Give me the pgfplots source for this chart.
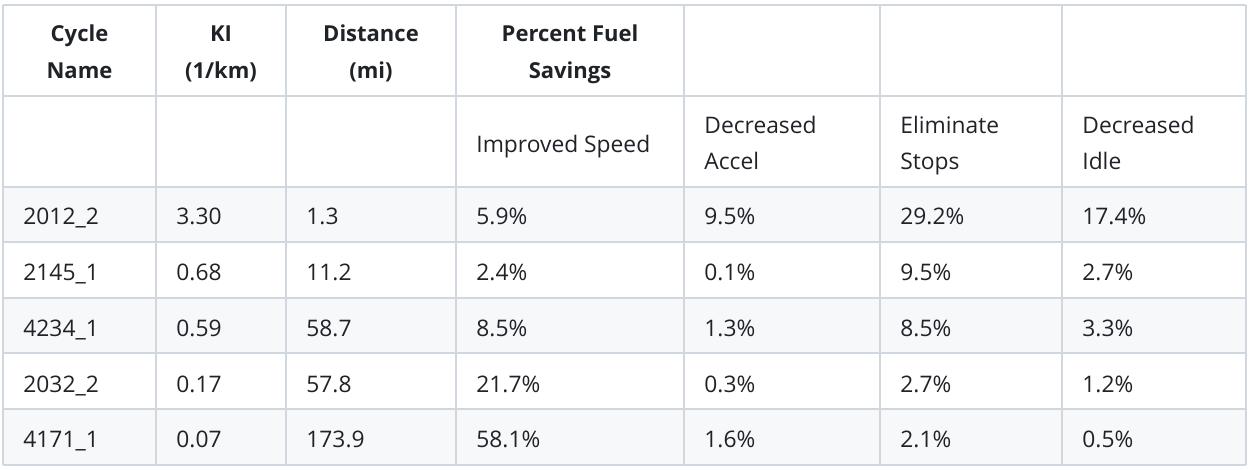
\documentclass[border=0pt]{standalone}
\usepackage{fontspec}
\setmainfont{Open Sans}
\usepackage{pgfplots}
\pgfplotsset{compat=1.18}
\usepackage{pgfplotstable}
\definecolor{gridc}{HTML}{D0D7DE}
\definecolor{rowc}{HTML}{F6F8FA}
\definecolor{txt}{HTML}{1F2328}

% data rows: y = text baseline (image px)
\pgfplotstableread{
name ki dist speed accel stops idle y
2012\_2 3.30 1.3 5.9 9.5 29.2 17.4 224
2145\_1 0.68 11.2 2.4 0.1 9.5 2.7 280
4234\_1 0.59 58.7 8.5 1.3 8.5 3.3 336
2032\_2 0.17 57.8 21.7 0.3 2.7 1.2 392
4171\_1 0.07 173.9 58.1 1.6 2.1 0.5 447
}\datatable

\pgfplotstableread{
x y label
79.5 42 Cycle
79.5 78 Name
221 42 KI
221 78 (1/km)
371 42 Distance
371 78 (mi)
570 42 {Percent Fuel}
570 78 Savings
}\headtable

\pgfplotstableread{
x y label
476 152 {Improved Speed}
704 133 Decreased
704 169 Accel
900 133 Eliminate
900 169 Stops
1082 133 Decreased
1082 169 Idle
}\subtable

\begin{document}
\begin{tikzpicture}
\begin{axis}[
  width=627pt, height=234.5pt, scale only axis,
  xmin=0, xmax=1254, ymin=0, ymax=469, y dir=reverse,
  hide axis, clip=false,
  txtstyle/.style={draw=none, mark=none, nodes near coords, point meta=explicit symbolic,
     every node near coord/.style={inner sep=0pt, text=txt, font=\fontsize{11.4}{16}\selectfont}},
  gl/.style={draw=gridc, line width=0.75pt},
]
\addplot[draw=none] coordinates {(0,0) (1254,469)};
% shaded rows
\addplot[fill=rowc, draw=none] coordinates {(3,187) (1246,187) (1246,242) (3,242)} -- cycle;
\addplot[fill=rowc, draw=none] coordinates {(3,298) (1246,298) (1246,353) (3,353)} -- cycle;
\addplot[fill=rowc, draw=none] coordinates {(3,409) (1246,409) (1246,465) (3,465)} -- cycle;
% grid lines
\addplot[gl] coordinates {(3,5) (3,465)};
\addplot[gl] coordinates {(156,5) (156,465)};
\addplot[gl] coordinates {(286,5) (286,465)};
\addplot[gl] coordinates {(456,5) (456,465)};
\addplot[gl] coordinates {(684,5) (684,465)};
\addplot[gl] coordinates {(880,5) (880,465)};
\addplot[gl] coordinates {(1062,5) (1062,465)};
\addplot[gl] coordinates {(1246,5) (1246,465)};
\addplot[gl] coordinates {(3,5) (1246,5)};
\addplot[gl] coordinates {(3,96) (1246,96)};
\addplot[gl] coordinates {(3,187) (1246,187)};
\addplot[gl] coordinates {(3,242) (1246,242)};
\addplot[gl] coordinates {(3,298) (1246,298)};
\addplot[gl] coordinates {(3,353) (1246,353)};
\addplot[gl] coordinates {(3,409) (1246,409)};
\addplot[gl] coordinates {(3,465) (1246,465)};
% header text
\addplot[txtstyle, nodes near coords align={anchor=base},
  every node near coord/.append style={font=\fontsize{11}{16}\selectfont\bfseries}]
  table[x=x, y=y, meta=label] {\headtable};
\addplot[txtstyle, nodes near coords align={anchor=base west}]
  table[x=x, y=y, meta=label] {\subtable};
% data cells
\addplot[txtstyle, nodes near coords align={anchor=base west}] table[x expr=23, y=y, meta=name] {\datatable};
\addplot[txtstyle, nodes near coords align={anchor=base west}] table[x expr=176, y=y, meta=ki] {\datatable};
\addplot[txtstyle, nodes near coords align={anchor=base west}] table[x expr=306, y=y, meta=dist] {\datatable};
\addplot[txtstyle, nodes near coords align={anchor=base west}, nodes near coords={\pgfplotspointmeta\%}] table[x expr=476, y=y, meta=speed] {\datatable};
\addplot[txtstyle, nodes near coords align={anchor=base west}, nodes near coords={\pgfplotspointmeta\%}] table[x expr=704, y=y, meta=accel] {\datatable};
\addplot[txtstyle, nodes near coords align={anchor=base west}, nodes near coords={\pgfplotspointmeta\%}] table[x expr=900, y=y, meta=stops] {\datatable};
\addplot[txtstyle, nodes near coords align={anchor=base west}, nodes near coords={\pgfplotspointmeta\%}] table[x expr=1082, y=y, meta=idle] {\datatable};
\end{axis}
\end{tikzpicture}
\end{document}
